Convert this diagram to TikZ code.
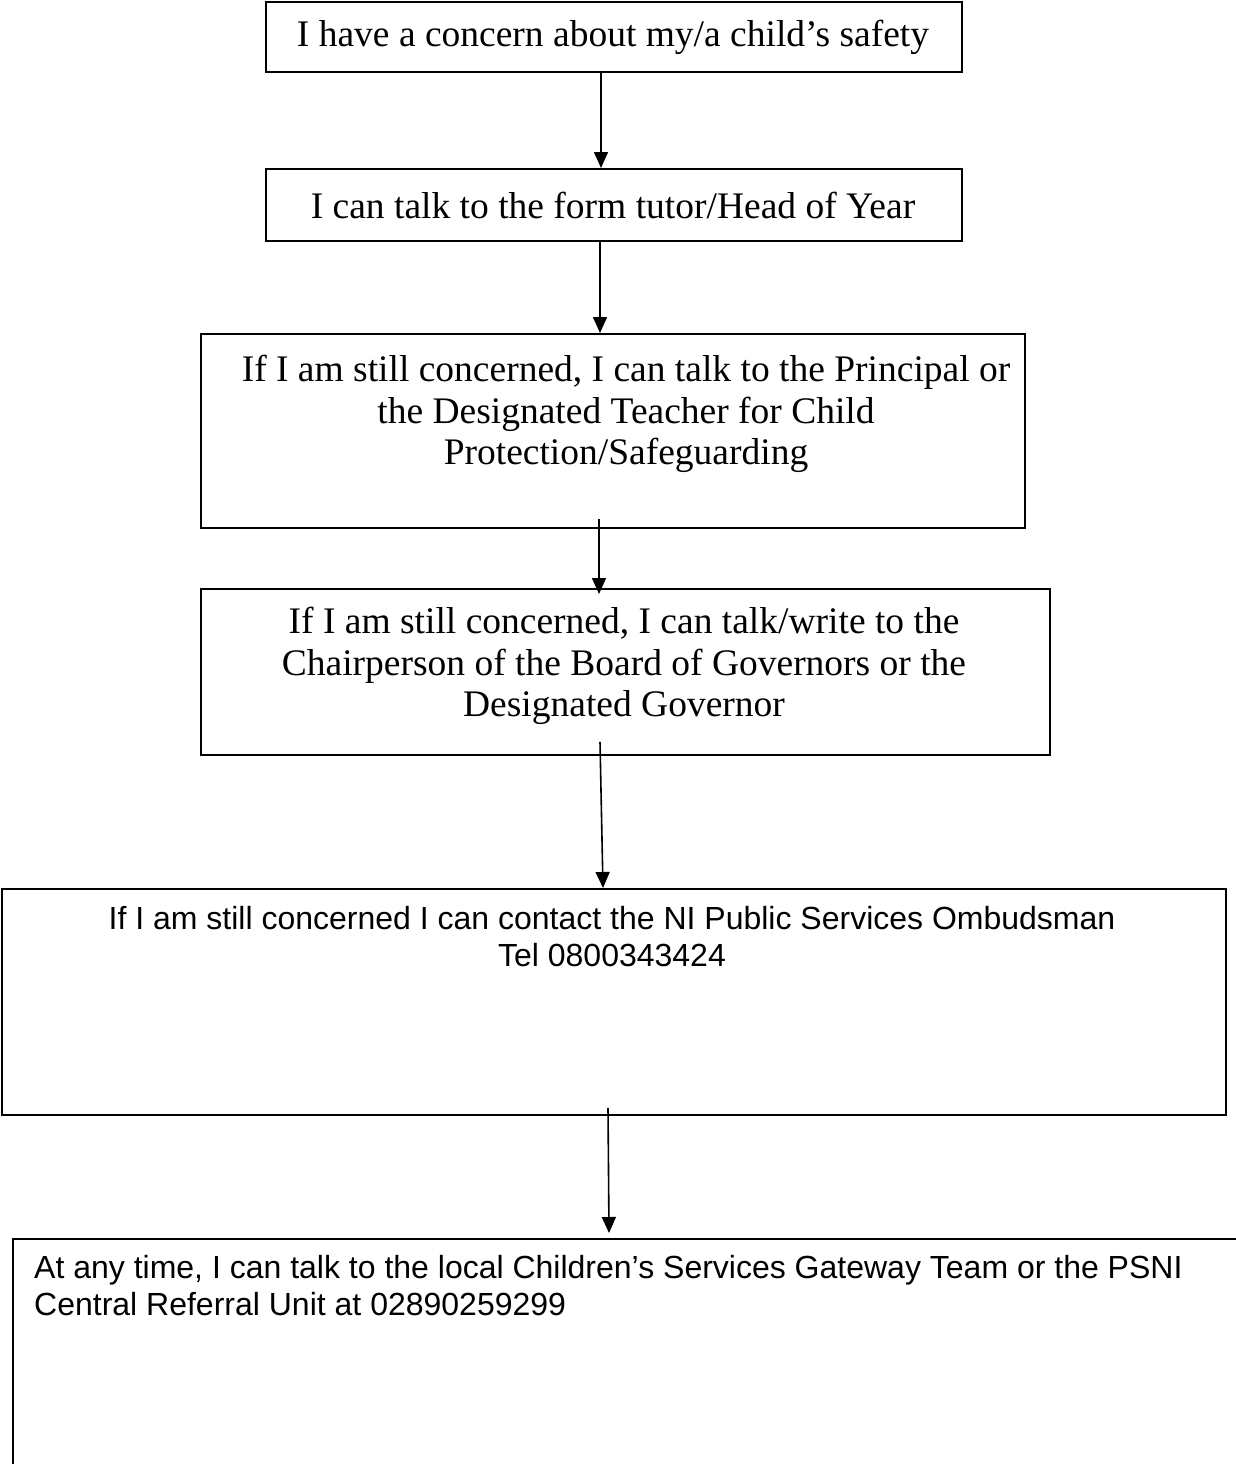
\documentclass[tikz,border=0pt]{standalone}
\usepackage{fontspec}
\setmainfont{Liberation Serif}
\setsansfont{Liberation Sans}
\usetikzlibrary{arrows.meta}
\begin{document}
\begin{tikzpicture}[x=1pt,y=-1pt,
  boxstyle/.style={draw=black,line width=1.8pt,inner sep=0pt,anchor=north west},
  sertext/.style={align=center,inner sep=0pt,font=\fontsize{37.5}{41.3}\selectfont},
  santext/.style={align=center,inner sep=0pt,font=\sffamily\fontsize{32}{37}\selectfont},
  arr/.style={line width=1.6pt,-{Triangle[length=16pt,width=14pt]}}]
\useasboundingbox[fill=white] (0,0) rectangle (1235,1464);
% boxes
\node[boxstyle,minimum width=696pt,minimum height=70pt] (b1) at (265,1) {};
\node[boxstyle,minimum width=696pt,minimum height=72pt] (b2) at (265,168) {};
\node[boxstyle,minimum width=824pt,minimum height=194pt] (b3) at (200,333) {};
\node[boxstyle,minimum width=849pt,minimum height=166pt] (b4) at (200,588) {};
\node[boxstyle,minimum width=1224pt,minimum height=226pt] (b5) at (1,888) {};
\node[boxstyle,minimum width=1240pt,minimum height=240pt] (b6) at (12,1238) {};
% texts
\node[sertext] (t1) at (613,37) {I have a concern about my/a child’s safety};
\node[sertext] (t2) at (613,205) {I can talk to the form tutor/Head of Year};
\node[sertext] (t3) at (626,414) {If I am still concerned, I can talk to the Principal or\\the Designated Teacher for Child\\Protection/Safeguarding};
\node[sertext] (t4) at (624,666) {If I am still concerned, I can talk/write to the\\Chairperson of the Board of Governors or the\\Designated Governor};
\node[santext] (t5) at (612,937) {If I am still concerned I can contact the NI Public Services Ombudsman\\Tel 0800343424};
\node[santext,align=left,anchor=north west] (t6) at (34,1255) {At any time, I can talk to the local Children’s Services Gateway Team or the PSNI\\Central Referral Unit at 02890259299};
% arrows
\coordinate (a1) at (601,0);
\coordinate (a2) at (600,0);
\draw[arr] (b1.south -| a1) -- (b2.north -| a1);
\draw[arr] (b2.south -| a2) -- (b3.north -| a2);
\draw[arr] ([yshift=10pt]b3.south -| 599,0) -- ([yshift=-6pt]b4.north -| 599,0);
\draw[arr] ([yshift=14pt]b4.south -| 600,0) -- ([xshift=3pt]b5.north -| 600,0);
\draw[arr] ([yshift=8pt]b5.south -| 608,0) -- ([xshift=1pt,yshift=5pt]b6.north -| 608,0);
\end{tikzpicture}
\end{document}
